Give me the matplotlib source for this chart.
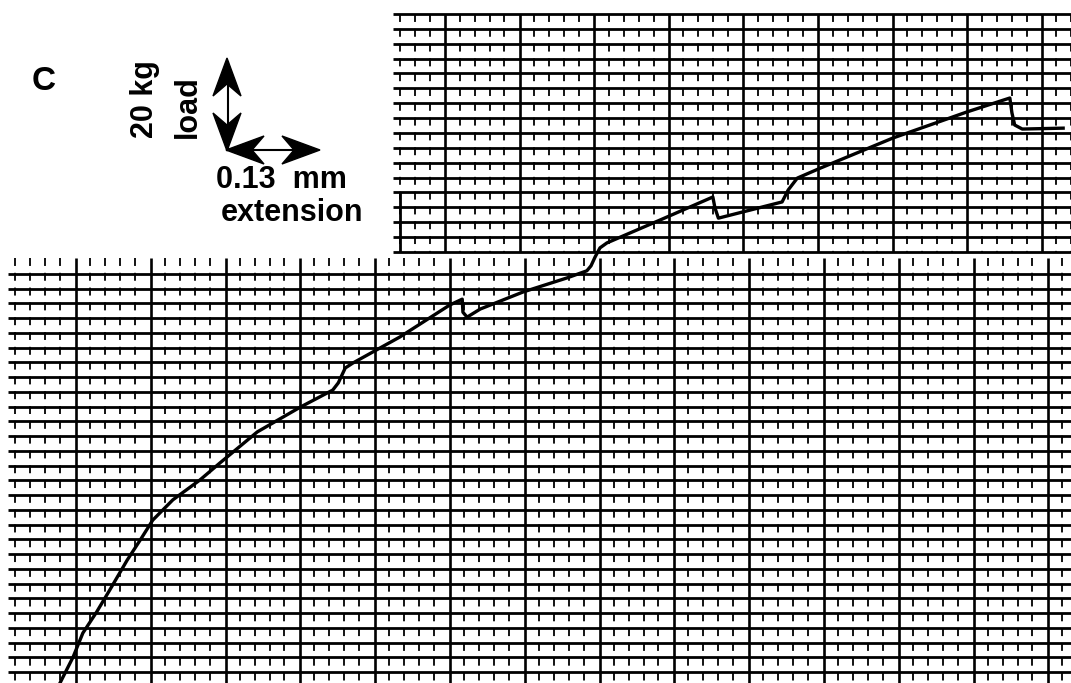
import matplotlib.pyplot as plt
import numpy as np
from matplotlib.patches import Polygon

# load-extension trace
extension_mm = [0.000, 0.019, 0.033, 0.053, 0.072, 0.097, 0.116, 0.134, 0.163, 0.202,
                0.231, 0.285, 0.347, 0.394, 0.402, 0.412, 0.423, 0.491, 0.563, 0.581,
                0.582, 0.588, 0.607, 0.669, 0.732, 0.761, 0.767, 0.773, 0.780, 0.790,
                0.867, 0.943, 0.946, 0.951, 1.043, 1.052, 1.065, 1.098, 1.203, 1.310,
                1.372, 1.375, 1.379, 1.390, 1.449]
load_kg = [0.0, 5.8, 11.1, 15.8, 20.7, 27.3, 31.8, 36.2, 40.7, 45.1,
           48.9, 55.8, 61.3, 65.1, 66.7, 70.0, 71.1, 76.9, 84.0, 85.3,
           82.4, 81.3, 83.1, 86.9, 90.0, 91.6, 92.7, 94.7, 96.7, 97.8,
           102.9, 108.0, 105.6, 103.3, 106.9, 109.6, 112.2, 114.4, 121.1, 126.9,
           130.0, 126.7, 124.0, 123.1, 123.3]

panel_label = "C"
load_label = ["20 kg", "load"]
ext_label = ["0.13  mm", "extension"]

W, H = 1071, 683
PX_PER_MM = 90 / 0.13   # scale bar: 0.13 mm = 90 px
PX_PER_KG = 90 / 20.0   # scale bar: 20 kg = 90 px
X0, Y0 = 60, 683        # pixel position of the trace origin


def draw_grid(ax, x_left, x_right, y_top, y_bot, y_first, dy, x_major0, dx_major, x_minor0, v_top):
    ys = np.arange(y_first, y_bot + 1, dy)
    ax.hlines(ys, x_left, x_right, colors="black", lw=2.0)
    majors = np.arange(x_major0, x_right + 1, dx_major)
    ax.vlines(majors, v_top, y_bot, colors="black", lw=1.9)
    minors = np.arange(x_minor0, x_right + 1, dx_major / 5)
    minors = [m for m in minors if np.min(np.abs(majors - m)) > 4]
    ax.vlines(minors, v_top, y_bot, colors="black", lw=1.3, linestyles=[(0, (4.4, 3.8))])


def arrow_head(ax, tip, d, length=38, width=28, notch=12):
    tip = np.array(tip, float)
    d = np.array(d, float)
    p = np.array([-d[1], d[0]])
    base = tip - d * length
    pts = [tip, base + p * width / 2, tip - d * (length - notch), base - p * width / 2]
    ax.add_patch(Polygon(pts, closed=True, color="black", zorder=5))


fig = plt.figure(figsize=(W / 100, H / 100), dpi=100)
ax = fig.add_axes([0, 0, 1, 1])
ax.set_xlim(0, W)
ax.set_ylim(H, 0)
ax.axis("off")

# upper (offset) sheet of chart paper
draw_grid(ax, 393, W, 14, 252, 14, 14.87, 445, 74.6, 400, 14)
ax.vlines(400, 192, 252, colors="black", lw=2.0)
# lower sheet
draw_grid(ax, 8, W, 258, H, 274, 14.74, 76, 74.8, 15.2, 258)

# scale bar arrows
ax.plot([228, 228], [62, 148], color="black", lw=1.5)
ax.plot([230, 316], [150, 150], color="black", lw=1.5)
arrow_head(ax, (227, 58), (0, -1))
arrow_head(ax, (227, 151), (0, 1))
arrow_head(ax, (226, 150), (-1, 0))
arrow_head(ax, (320, 150), (1, 0))

font = dict(family="Liberation Sans", weight="bold", color="black")
ax.text(44, 82, panel_label, fontsize=24, ha="center", va="center", **font)
ax.text(145, 138, load_label[0], fontsize=22, rotation=90, ha="center", va="bottom", **font)
ax.text(188, 138, load_label[1], fontsize=22, rotation=90, ha="center", va="bottom", **font)
ax.text(216, 180, ext_label[0], fontsize=22, ha="left", va="center", **font)
ax.text(221, 213, ext_label[1], fontsize=22, ha="left", va="center", **font)

# trace drawn in physical units on an overlaid axes
ax2 = fig.add_axes([0, 0, 1, 1])
ax2.set_xlim(-X0 / PX_PER_MM, (W - X0) / PX_PER_MM)
ax2.set_ylim((Y0 - H) / PX_PER_KG, Y0 / PX_PER_KG)
ax2.axis("off")
ax2.plot(extension_mm, load_kg, color="black", lw=2.4, solid_joinstyle="round")

fig.savefig("out.png", dpi=100, facecolor="white")
